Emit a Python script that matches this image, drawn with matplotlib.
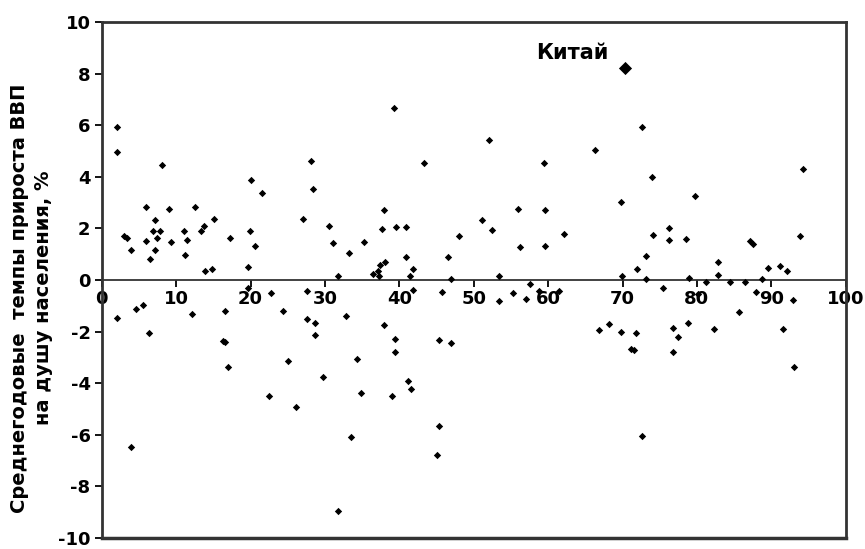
import numpy as np
import matplotlib.pyplot as plt

plt.rcParams['axes.unicode_minus'] = False

# points: (x, growth %)
x_left = [2.0, 2.0, 8.1, 20.0, 21.6, 5.9, 9.05, 12.5, 7.1, 15.1,
          13.75, 13.4, 3.0, 3.4, 3.9, 5.95, 6.9, 7.8, 7.4, 7.2, 6.5,
          9.3, 11.0, 11.5, 11.2, 17.2, 19.9, 20.6, 13.9, 14.8, 19.7,
          19.7, 22.7, 2.0, 4.6, 5.6, 6.4, 12.2, 16.6, 24.4, 16.3, 16.6,
          17.0, 25.1, 22.5, 26.1, 4.0]
y_left = [5.94, 4.97, 4.46, 3.88, 3.37, 2.83, 2.76, 2.83, 2.34, 2.36,
          2.08, 1.88, 1.69, 1.63, 1.18, 1.53, 1.88, 1.88, 1.63, 1.18, 0.82,
          1.47, 1.88, 1.56, 0.98, 1.63, 1.88, 1.33, 0.34, 0.43, 0.49,
          -0.3, -0.49, -1.46, -1.14, -0.95, -2.04, -1.33, -1.2, -1.2, -2.36, -2.42,
          -3.39, -3.15, -4.49, -4.91, -6.48]

x_mid = [27.0, 39.3, 52.1, 28.1, 43.3, 59.4, 28.4, 38.0, 30.6, 37.7,
         39.6, 40.9, 51.1, 52.4, 56.0, 59.6, 62.1, 48.0, 31.1, 33.2,
         35.2, 56.2, 59.6, 38.1, 37.4, 40.9, 46.5, 31.7, 36.5, 37.2,
         37.3, 41.9, 41.4, 47.0, 53.4, 27.6, 41.9, 45.8, 53.4, 55.3,
         57.0, 57.6, 58.8, 61.4, 27.6, 28.7, 32.9, 28.7, 38.0, 39.4,
         39.4, 45.3, 47.0, 34.3, 29.7, 34.8, 39.0, 41.1, 41.6, 45.4,
         45.1, 33.5, 31.8]
y_mid = [2.36, 6.67, 5.42, 4.63, 4.55, 4.55, 3.52, 2.72, 2.08, 1.98,
         2.05, 2.04, 2.31, 1.95, 2.76, 2.72, 1.78, 1.72, 1.44, 1.05,
         1.46, 1.28, 1.33, 0.69, 0.6, 0.9, 0.9, 0.15, 0.24, 0.34,
         0.15, 0.41, 0.17, 0.05, 0.15, -0.42, -0.37, -0.47, -0.82, -0.52,
         -0.75, -0.14, -0.43, -0.43, -1.52, -1.65, -1.4, -2.13, -1.76, -2.27,
         -2.79, -2.32, -2.45, -3.07, -3.75, -4.38, -4.51, -3.91, -4.23, -5.67,
         -6.8, -6.09, -8.95]

x_right = [72.6, 66.3, 94.3, 73.9, 79.7, 69.8, 74.1, 76.2, 76.3, 78.5,
           87.2, 87.6, 93.8, 73.2, 72.0, 82.9, 91.2, 92.1, 89.6, 69.9,
           73.2, 79.0, 81.2, 82.8, 84.4, 86.5, 88.7, 75.5, 80.2, 88.0,
           92.9, 85.6, 66.9, 68.2, 69.8, 71.8, 71.1, 71.5, 76.8, 77.4,
           78.8, 76.8, 82.3, 91.6, 93.1, 72.6]
y_right = [5.94, 5.04, 4.29, 4.01, 3.26, 3.02, 1.76, 2.01, 1.54, 1.59,
           1.5, 1.38, 1.72, 0.92, 0.43, 0.69, 0.56, 0.34, 0.47, 0.17,
           0.05, 0.08, -0.08, 0.21, -0.08, -0.08, 0.05, -0.3, -0.56, -0.47,
           -0.78, -1.24, -1.95, -1.72, -2.01, -2.07, -2.66, -2.72, -1.88, -2.21,
           -1.65, -2.81, -1.91, -1.91, -3.37, -6.03]

china_x, china_y = 70.3, 8.23

xs = np.array(x_left + x_mid + x_right)
ys = np.array(y_left + y_mid + y_right)

fig = plt.figure(figsize=(8.65, 5.49), dpi=100)
ax = fig.add_axes([0.1176, 0.020, 0.8601, 0.940])

ax.scatter(xs, ys, marker='D', s=14, color='black', linewidths=0, zorder=3)
ax.scatter([china_x], [china_y], marker='D', s=45, color='black', linewidths=0, zorder=3)
ax.text(58.4, 8.8, 'Китай', fontsize=15, fontweight='bold', va='center')

ax.set_xlim(0, 100)
ax.set_ylim(-10, 10)
ax.set_xticks(np.arange(0, 101, 10))
ax.set_yticks(np.arange(-10, 11, 2))

edge = '#333333'
ax.spines['bottom'].set_position(('data', 0))
ax.spines['bottom'].set_linewidth(1.3)
for s in ['left', 'top', 'right']:
    ax.spines[s].set_linewidth(2)
    ax.spines[s].set_color(edge)
ax.spines['bottom'].set_color(edge)
ax.axhline(-10, color=edge, lw=2.5, clip_on=False)

ax.tick_params(axis='x', direction='out', length=5, width=1.3, pad=2, labelsize=13, colors='black')
ax.tick_params(axis='y', direction='out', length=5, width=1.3, pad=3, labelsize=13)
for lab in ax.get_xticklabels() + ax.get_yticklabels():
    lab.set_fontweight('bold')

ax.set_ylabel('Среднегодовые  темпы прироста ВВП\nна душу населения, %',
              fontsize=14, fontweight='bold', linespacing=1.3)
ax.yaxis.set_label_coords(-0.066, 0.465)

fig.savefig('out.png', dpi=100)
